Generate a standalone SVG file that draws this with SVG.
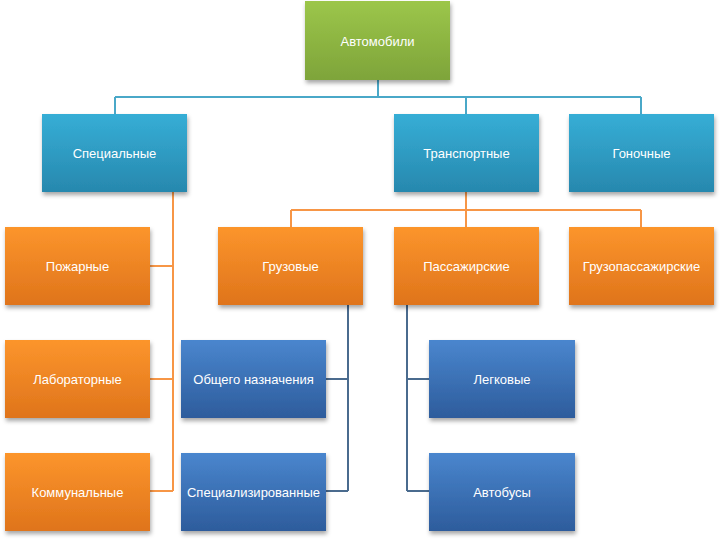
<svg xmlns="http://www.w3.org/2000/svg" width="720" height="540" viewBox="0 0 720 540">
<defs>
<linearGradient id="gGreen" x1="0" y1="0" x2="0" y2="1"><stop offset="0" stop-color="#9cc64a"/><stop offset="1" stop-color="#7ea43a"/></linearGradient>
<linearGradient id="gTeal" x1="0" y1="0" x2="0" y2="1"><stop offset="0" stop-color="#36aed6"/><stop offset="1" stop-color="#2788ae"/></linearGradient>
<linearGradient id="gOrange" x1="0" y1="0" x2="0" y2="1"><stop offset="0" stop-color="#fc952c"/><stop offset="1" stop-color="#df741b"/></linearGradient>
<linearGradient id="gBlue" x1="0" y1="0" x2="0" y2="1"><stop offset="0" stop-color="#4a86ce"/><stop offset="1" stop-color="#2d5c9c"/></linearGradient>
<filter id="sh" x="-10%" y="-10%" width="125%" height="130%"><feDropShadow dx="1" dy="3" stdDeviation="2" flood-color="#000" flood-opacity="0.35"/></filter>
</defs>
<style>
rect{filter:url(#sh)}
.green{fill:url(#gGreen)}
.teal{fill:url(#gTeal)}
.orange{fill:url(#gOrange)}
.blue{fill:url(#gBlue)}
text{font-family:"Liberation Sans","DejaVu Sans",sans-serif;font-size:13px;fill:#fff;text-anchor:middle;dominant-baseline:central}
.c1{stroke:#4aa8c8;stroke-width:2;fill:none}
.c2{stroke:#f79646;stroke-width:2;fill:none}
.c3{stroke:#4a6b8e;stroke-width:2;fill:none}
</style>
<g id="connectors">
<path class="c1" d="M378 80V97M115 97H641M115 97V114M466 97V114M641 97V114"/>
<path class="c2" d="M466 192V210M291 210H641M291 210V227M466 210V227M641 210V227"/>
<path class="c2" d="M173 192V491M150 266H173M150 379H173M150 491H173"/>
<path class="c3" d="M348 305V491M326 379H348M326 491H348"/>
<path class="c3" d="M407 305V491M407 379H429M407 491H429"/>
</g>
<g id="n-avto"><rect class="green" x="305" y="1" width="145" height="79"/><text x="377.5" y="41">Автомобили</text></g>
<g id="n-spec"><rect class="teal" x="42" y="114" width="145" height="78"/><text x="114.5" y="153">Специальные</text></g>
<g id="n-trans"><rect class="teal" x="394" y="114" width="145" height="78"/><text x="466.5" y="153">Транспортные</text></g>
<g id="n-gon"><rect class="teal" x="569" y="114" width="145" height="78"/><text x="641.5" y="153">Гоночные</text></g>
<g id="n-pozh"><rect class="orange" x="5" y="227" width="145" height="78"/><text x="77.5" y="266">Пожарные</text></g>
<g id="n-gruz"><rect class="orange" x="218" y="227" width="145" height="78"/><text x="290.5" y="266">Грузовые</text></g>
<g id="n-pass"><rect class="orange" x="394" y="227" width="145" height="78"/><text x="466.5" y="266">Пассажирские</text></g>
<g id="n-gp"><rect class="orange" x="569" y="227" width="145" height="78"/><text x="641.5" y="266">Грузопассажирские</text></g>
<g id="n-lab"><rect class="orange" x="5" y="340" width="145" height="78"/><text x="77.5" y="379">Лабораторные</text></g>
<g id="n-obsh"><rect class="blue" x="181" y="340" width="145" height="78"/><text x="253.5" y="379">Общего назначения</text></g>
<g id="n-leg"><rect class="blue" x="429" y="340" width="146" height="78"/><text x="502" y="379">Легковые</text></g>
<g id="n-komm"><rect class="orange" x="5" y="453" width="145" height="78"/><text x="77.5" y="492">Коммунальные</text></g>
<g id="n-specz"><rect class="blue" x="181" y="453" width="145" height="78"/><text x="253.5" y="492">Специализированные</text></g>
<g id="n-avtob"><rect class="blue" x="429" y="453" width="146" height="78"/><text x="502" y="492">Автобусы</text></g>
</svg>
